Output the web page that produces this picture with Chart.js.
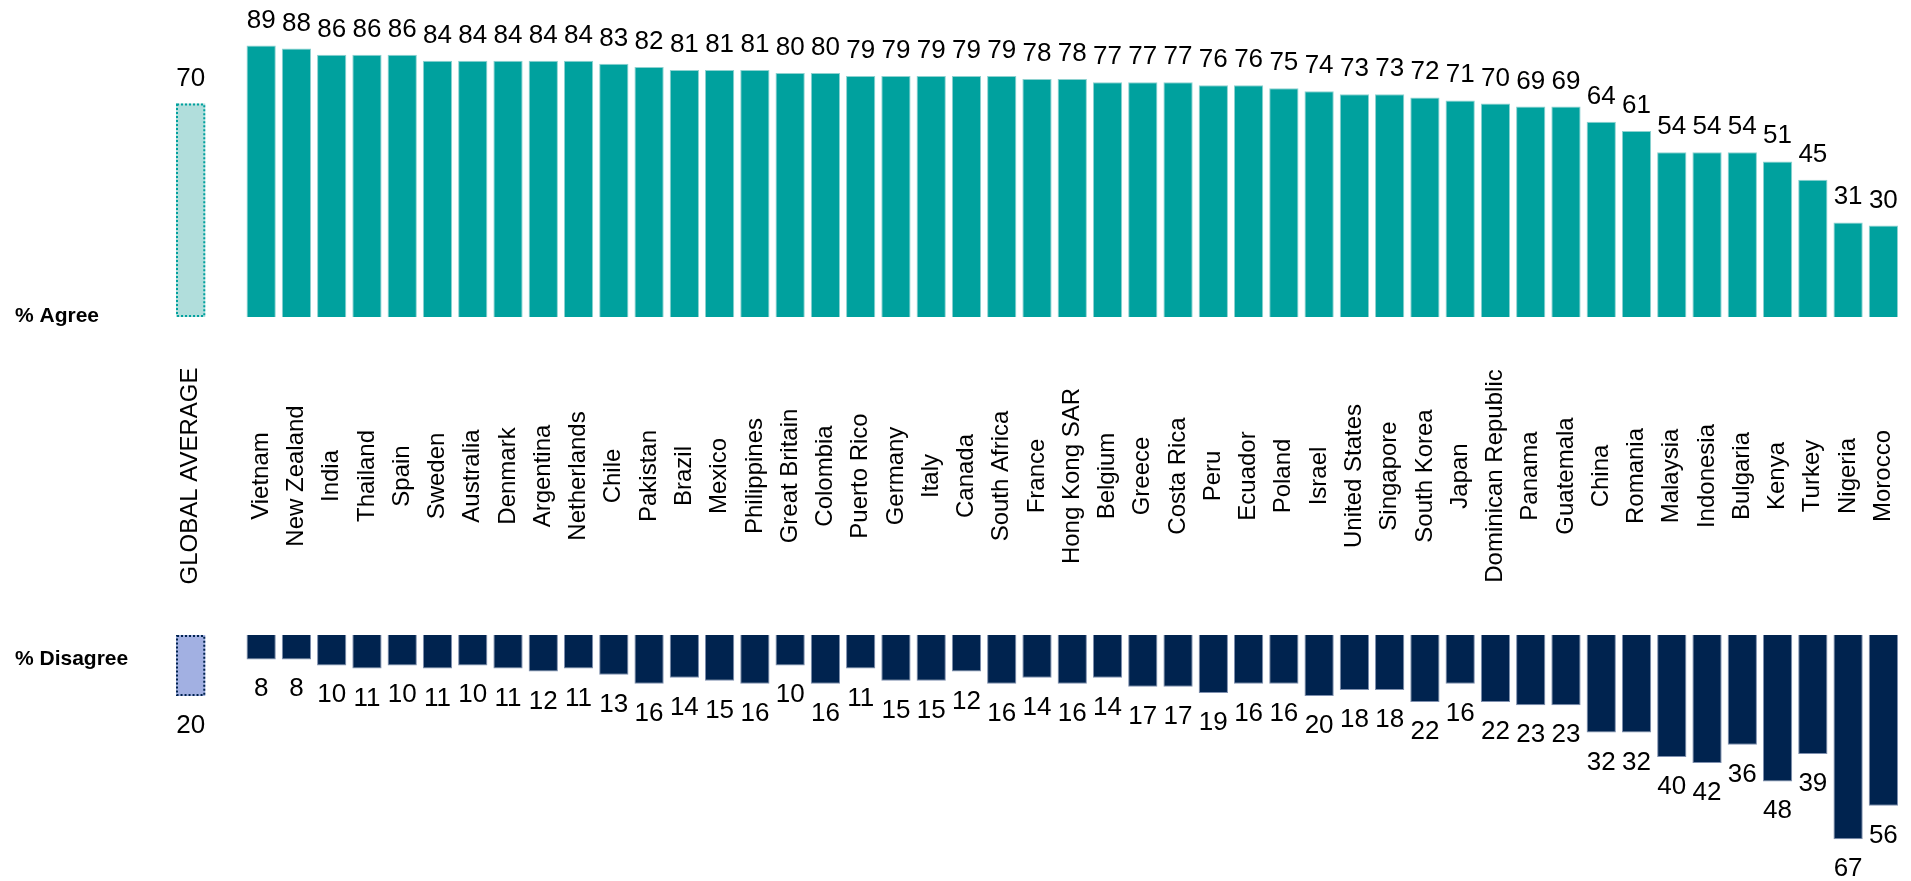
<!DOCTYPE html>
<html>
<head>
<meta charset="utf-8">
<script src="https://cdn.jsdelivr.net/npm/chart.js@4.4.0/dist/chart.umd.min.js"></script>
<style>
  html, body { margin: 0; padding: 0; background: #fff; overflow: hidden; }
  #wrap { position: relative; width: 1911px; height: 881px; }
</style>
</head>
<body>
<div id="wrap"><canvas id="chart" width="1911" height="881"></canvas></div>
<script>
// ===== DATA =====
const countries = [
  'Vietnam', 'New Zealand', 'India', 'Thailand', 'Spain', 'Sweden', 'Australia', 'Denmark',
  'Argentina', 'Netherlands', 'Chile', 'Pakistan', 'Brazil', 'Mexico', 'Philippines',
  'Great Britain', 'Colombia', 'Puerto Rico', 'Germany', 'Italy', 'Canada', 'South Africa',
  'France', 'Hong Kong SAR', 'Belgium', 'Greece', 'Costa Rica', 'Peru', 'Ecuador', 'Poland',
  'Israel', 'United States', 'Singapore', 'South Korea', 'Japan', 'Dominican Republic',
  'Panama', 'Guatemala', 'China', 'Romania', 'Malaysia', 'Indonesia', 'Bulgaria', 'Kenya',
  'Turkey', 'Nigeria', 'Morocco',
];
const agree = [
  89, 88, 86, 86, 86, 84, 84, 84, 84, 84, 83, 82, 81, 81, 81, 80, 80, 79, 79, 79, 79, 79,
  78, 78, 77, 77, 77, 76, 76, 75, 74, 73, 73, 72, 71, 70, 69, 69, 64, 61, 54, 54, 54, 51,
  45, 31, 30,
];
const disagree = [
  8, 8, 10, 11, 10, 11, 10, 11, 12, 11, 13, 16, 14, 15, 16, 10, 16, 11, 15, 15, 12, 16,
  14, 16, 14, 17, 17, 19, 16, 16, 20, 18, 18, 22, 16, 22, 23, 23, 32, 32, 40, 42, 36, 48,
  39, 67, 56,
];
const avgLabel = 'GLOBAL AVERAGE';
const avgAgree = 70;
const avgDisagree = 20;

// ===== COLORS =====
const COLORS = {
  agree: '#00A19E',
  agreeEdge: '#8ed2d0',
  agreeAvg: '#B1DEDC',
  disagree: '#00234F',
  disagreeEdge: '#7e8fae',
  disagreeAvg: '#A2B0E2',
  text: '#000000',
};
const FONT = '"Liberation Sans", Arial, sans-serif';

// average first, then an empty spacer slot, then the countries
const labels = [avgLabel, '', ...countries];
const agreeData = [avgAgree, null, ...agree];
const disagreeData = [avgDisagree, null, ...disagree];

// ===== LABELS / DOTTED OUTLINE PLUGIN =====
const annotate = {
  id: 'annotate',
  afterDatasetsDraw(chart) {
    const { ctx } = chart;
    const xScale = chart.scales.x;
    const outlines = [COLORS.agree, COLORS.disagree];
    ctx.save();

    // dotted outline round the two average bars
    chart.data.datasets.forEach((ds, di) => {
      const el = chart.getDatasetMeta(di).data[0];
      const { x, y, base, width } = el.getProps(['x', 'y', 'base', 'width'], true);
      const top = Math.min(y, base);
      const h = Math.abs(base - y);
      ctx.setLineDash([2, 2]);
      ctx.lineWidth = 2;
      ctx.strokeStyle = outlines[di];
      ctx.strokeRect(x - width / 2 + 1, top + 1, width - 2, h - 2);
    });
    ctx.setLineDash([]);

    // value labels: above agree bars, below disagree bars
    ctx.font = `26px ${FONT}`;
    ctx.fillStyle = COLORS.text;
    ctx.textAlign = 'center';
    ctx.textBaseline = 'alphabetic';
    chart.data.datasets.forEach((ds, di) => {
      chart.getDatasetMeta(di).data.forEach((el, i) => {
        const v = ds.data[i];
        if (v == null) return;
        const { x, y } = el.getProps(['x', 'y'], true);
        ctx.fillText(String(v), x, di === 0 ? y - 18 : y + 37);
      });
    });

    // category names, rotated, centred in the middle band
    ctx.font = `24px ${FONT}`;
    labels.forEach((lab, i) => {
      if (!lab) return;
      ctx.save();
      ctx.translate(xScale.getPixelForValue(i), 476);
      ctx.rotate(-Math.PI / 2);
      ctx.textBaseline = 'middle';
      ctx.fillText(lab, 0, 0);
      ctx.restore();
    });

    // row titles
    ctx.font = `bold 21px ${FONT}`;
    ctx.textAlign = 'left';
    ctx.textBaseline = 'alphabetic';
    ctx.fillText('% Agree', 15, 322);
    ctx.fillText('% Disagree', 15, 665);
    ctx.restore();
  },
};

// ===== CHART =====
new Chart(document.getElementById('chart'), {
  type: 'bar',
  data: {
    labels,
    datasets: [
      {
        label: '% Agree',
        data: agreeData,
        yAxisID: 'yA',
        backgroundColor: (c) => (c.dataIndex === 0 ? COLORS.agreeAvg : COLORS.agree),
        borderColor: COLORS.agreeEdge,
        borderWidth: (c) => (c.dataIndex === 0 ? 0 : 1),
      },
      {
        label: '% Disagree',
        data: disagreeData,
        yAxisID: 'yD',
        backgroundColor: (c) => (c.dataIndex === 0 ? COLORS.disagreeAvg : COLORS.disagree),
        borderColor: COLORS.disagreeEdge,
        borderWidth: (c) => (c.dataIndex === 0 ? 0 : 1),
      },
    ],
  },
  options: {
    responsive: false,
    animation: false,
    layout: { padding: { left: 173, right: 10, top: 12, bottom: 2 } },
    datasets: { bar: { grouped: false, categoryPercentage: 1, barPercentage: 0.83 } },
    plugins: { legend: { display: false }, tooltip: { enabled: false } },
    scales: {
      x: { display: false },
      // both value axes share one pixel scale; ranges place the zero lines
      // of the agree row and the (downward) disagree row
      yA: { type: 'linear', position: 'left', display: false, min: -184.26, max: 100 },
      yD: { type: 'linear', position: 'left', display: false, reverse: true, min: -204.26, max: 80 },
    },
  },
  plugins: [annotate],
});
</script>
</body>
</html>
